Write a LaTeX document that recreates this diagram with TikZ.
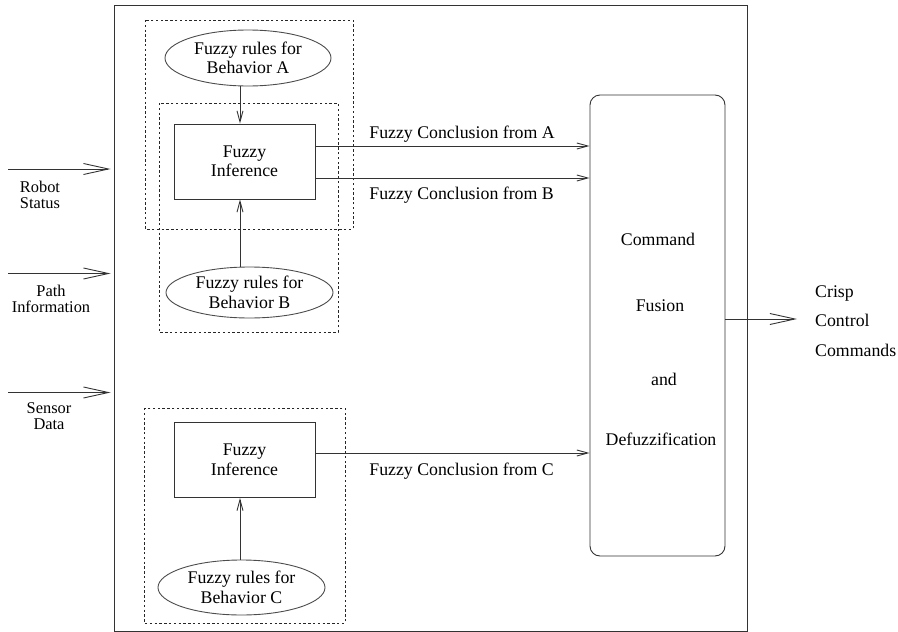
\documentclass[tikz,border=0pt]{standalone}
\usepackage{fontspec}
\setmainfont{Liberation Serif}
\usetikzlibrary{arrows.meta,shapes.geometric}

\begin{document}
\begin{tikzpicture}[x=1pt,y=-1pt,
  every node/.style={font=\fontsize{17.8}{19.5}\selectfont, text=black},
  line/.style={draw=black!80, line width=0.9pt},
  groupbox/.style={draw=black!85, line width=0.9pt, dash pattern=on 2.4pt off 2.4pt},
  infbox/.style={line, rectangle, minimum width=141pt, minimum height=75pt, inner sep=0pt, align=center},
  rules/.style={draw=black!70, line width=0.9pt, ellipse, inner sep=0pt, align=center},
  bigarrow/.style={line, -{Straight Barb[length=25pt,width=11pt,line width=0.9pt]}},
  smallarrow/.style={line, -{Straight Barb[length=11pt,width=6pt,line width=0.9pt]}},
  inlabel/.style={align=center, inner sep=0pt, font=\fontsize{16.4}{16.2}\selectfont},
  txt/.style={inner sep=0pt, anchor=base}
]
\useasboundingbox (0,0) rectangle (898,632);

% outer frame of the controller
\node[line, rectangle, minimum width=633pt, minimum height=626pt, inner sep=0pt] (frame) at (430.5,318) {};

% behavior groups
\draw[groupbox] (145,20) rectangle (353,229);
\draw[groupbox] (159,103) rectangle (338,332);
\draw[groupbox] (144,408) rectangle (345,623);

% fuzzy inference blocks
\node[infbox] (infAB) at (244.5,161.5) {Fuzzy\\Inference};
\node[infbox] (infC) at (244.5,460) {Fuzzy\\Inference};

% rule bases
\node[rules, minimum width=166pt, minimum height=56pt] (rulesA) at (248,58) {Fuzzy rules for\\Behavior A};
\node[rules, minimum width=167pt, minimum height=51pt] (rulesB) at (249.5,292.5) {Fuzzy rules for\\Behavior B};
\node[rules, minimum width=167pt, minimum height=55pt] (rulesC) at (241.5,587.5) {Fuzzy rules for\\Behavior C};

% command fusion block
\node[line, rectangle, rounded corners=10pt, minimum width=135pt, minimum height=461pt, inner sep=0pt] (fusion) at (657.5,325.5) {};
\node[txt] (fusT1) at (658,245) {Command};
\node[txt] (fusT2) at (660,311) {Fusion};
\node[txt] (fusT3) at (664,385) {and};
\node[txt] (fusT4) at (661,445) {Defuzzification};

% rules into inference
\draw[smallarrow] ([xshift=-4.5pt]infAB.north |- rulesA.south) -- ([xshift=-4.5pt]infAB.north);
\draw[smallarrow] ([xshift=-4.5pt]infAB.south |- rulesB.north) -- ([xshift=-4.5pt]infAB.south);
\draw[smallarrow] ([xshift=-4.5pt]infC.south |- rulesC.north) -- ([xshift=-4.5pt]infC.south);

% fuzzy conclusions into fusion
\draw[smallarrow] ([yshift=15.5pt]infAB.east) -- ([yshift=15.5pt]infAB.east -| fusion.west)
  node[pos=0.195, above=3pt, anchor=south west, inner sep=0pt] (concA) {Fuzzy Conclusion from A};
\draw[smallarrow] ([yshift=-16.5pt]infAB.east) -- ([yshift=-16.5pt]infAB.east -| fusion.west)
  node[pos=0.195, below=9pt, anchor=north west, inner sep=0pt] (concB) {Fuzzy Conclusion from B};
\draw[smallarrow] ([yshift=7pt]infC.east) -- ([yshift=7pt]infC.east -| fusion.west)
  node[pos=0.195, below=10pt, anchor=north west, inner sep=0pt] (concC) {Fuzzy Conclusion from C};

% inputs
\coordinate (inRobot) at (8,169);
\coordinate (inPath) at (8,273.5);
\coordinate (inSensor) at (8,392.5);
\draw[bigarrow, shorten >=3pt] (inRobot) -- (inRobot -| frame.west);
\draw[bigarrow, shorten >=3pt] (inPath) -- (inPath -| frame.west);
\draw[bigarrow, shorten >=3pt] (inSensor) -- (inSensor -| frame.west);
\node[inlabel] (lblRobot) at (40,194.5) {Robot\\Status};
\node[inlabel] (lblPath) at (51,298.5) {Path\\Information};
\node[inlabel] (lblSensor) at (49,416.5) {Sensor\\Data};

% output
\coordinate (outEnd) at (797,319);
\draw[bigarrow] (fusion.east |- outEnd) -- (outEnd);
\node[txt, anchor=base west] (outT1) at (815,297) {Crisp};
\node[txt, anchor=base west] (outT2) at (815,326) {Control};
\node[txt, anchor=base west] (outT3) at (815,356) {Commands};
\end{tikzpicture}
\end{document}
